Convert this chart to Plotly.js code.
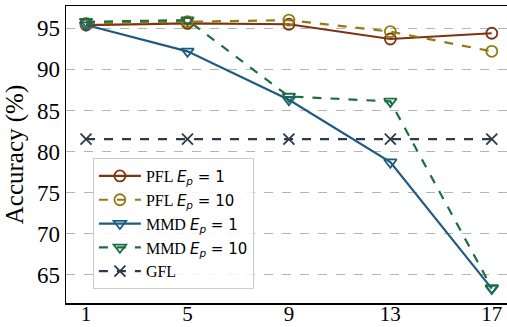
<!DOCTYPE html>
<html>
<head>
<meta charset="utf-8">
<script src="https://cdn.plot.ly/plotly-3.0.1.min.js"></script>
<style>html,body{margin:0;padding:0;background:#fff;}#chart{width:507px;height:327px;}</style>
</head>
<body>
<div id="chart"></div>
<script>
const xVals = [1, 5, 9, 13, 17];
const pflEp1 = [95.4, 95.6, 95.5, 93.7, 94.4];
const pflEp10 = [95.6, 95.8, 96.0, 94.6, 92.2];
const mmdEp1 = [95.4, 92.2, 86.3, 78.7, 63.3];
const mmdEp10 = [95.8, 96.0, 86.7, 86.1, 63.4];
const gfl = [81.5, 81.5, 81.5, 81.5, 81.5];
const names = ['PFL', 'PFL', 'MMD', 'MMD', 'GFL'];
const epochs = ['1', '10', '1', '10', null];

function label(i) {
  if (epochs[i] === null) return names[i];
  return names[i] + ' <span style="font-family:DejaVu Sans;font-size:15px"><i>E</i><sub><i>p</i></sub> = ' + epochs[i] + '</span>';
}

const series = [pflEp1, pflEp10, mmdEp1, mmdEp10, gfl];
const colors = ['#7f3311', '#927a12', '#1f5a83', '#1d6f42', '#2b3a4c'];
const dashes = ['solid', 'dash', 'solid', 'dash', 'dash'];
const symbols = ['circle-open', 'circle-open', 'triangle-down-open', 'triangle-down-open', 'x-thin-open'];

const traces = series.map((ys, i) => ({
  x: xVals, y: ys, name: label(i), type: 'scatter', mode: 'lines+markers',
  legendgroup: 'g' + i,
  line: {color: colors[i], width: 2.2, dash: dashes[i]},
  marker: {symbol: symbols[i], size: 11, color: colors[i], line: {color: colors[i], width: 1.8}}
}));

const layout = {
  width: 507, height: 327,
  margin: {l: 66, r: 0, t: 6, b: 24},
  paper_bgcolor: '#fff', plot_bgcolor: '#fff',
  font: {family: 'Liberation Serif, Times New Roman, serif', color: '#000'},
  xaxis: {
    range: [0.21, 17.6], tickvals: xVals, ticktext: xVals.map(String),
    showgrid: false, zeroline: false,
    showline: true, linecolor: '#000', linewidth: 1.5, mirror: true,
    ticks: '', tickfont: {size: 21, family: 'Liberation Serif'},
    ticklabelstandoff: -9
  },
  yaxis: {
    range: [61.55, 97.72], tickvals: [65, 70, 75, 80, 85, 90, 95],
    showgrid: true, gridcolor: '#b5b5b5', griddash: 'dash', gridwidth: 1,
    zeroline: false, showline: true, linecolor: '#000', linewidth: 1.5,
    ticks: '', tickfont: {size: 23, family: 'Liberation Serif'},
    title: {text: 'Accuracy (%)', font: {size: 25, family: 'Liberation Serif'}, standoff: 6}
  },
  legend: {
    x: 0.061, y: 0.488, xanchor: 'left', yanchor: 'top',
    bgcolor: 'rgba(255,255,255,0.85)', bordercolor: '#cccccc', borderwidth: 1,
    font: {size: 16, family: 'Liberation Serif', color: '#000'},
    tracegroupgap: 0, itemwidth: 42
  },
  showlegend: true
};

Plotly.newPlot('chart', traces, layout, {staticPlot: true, displayModeBar: false});
</script>
</body>
</html>
